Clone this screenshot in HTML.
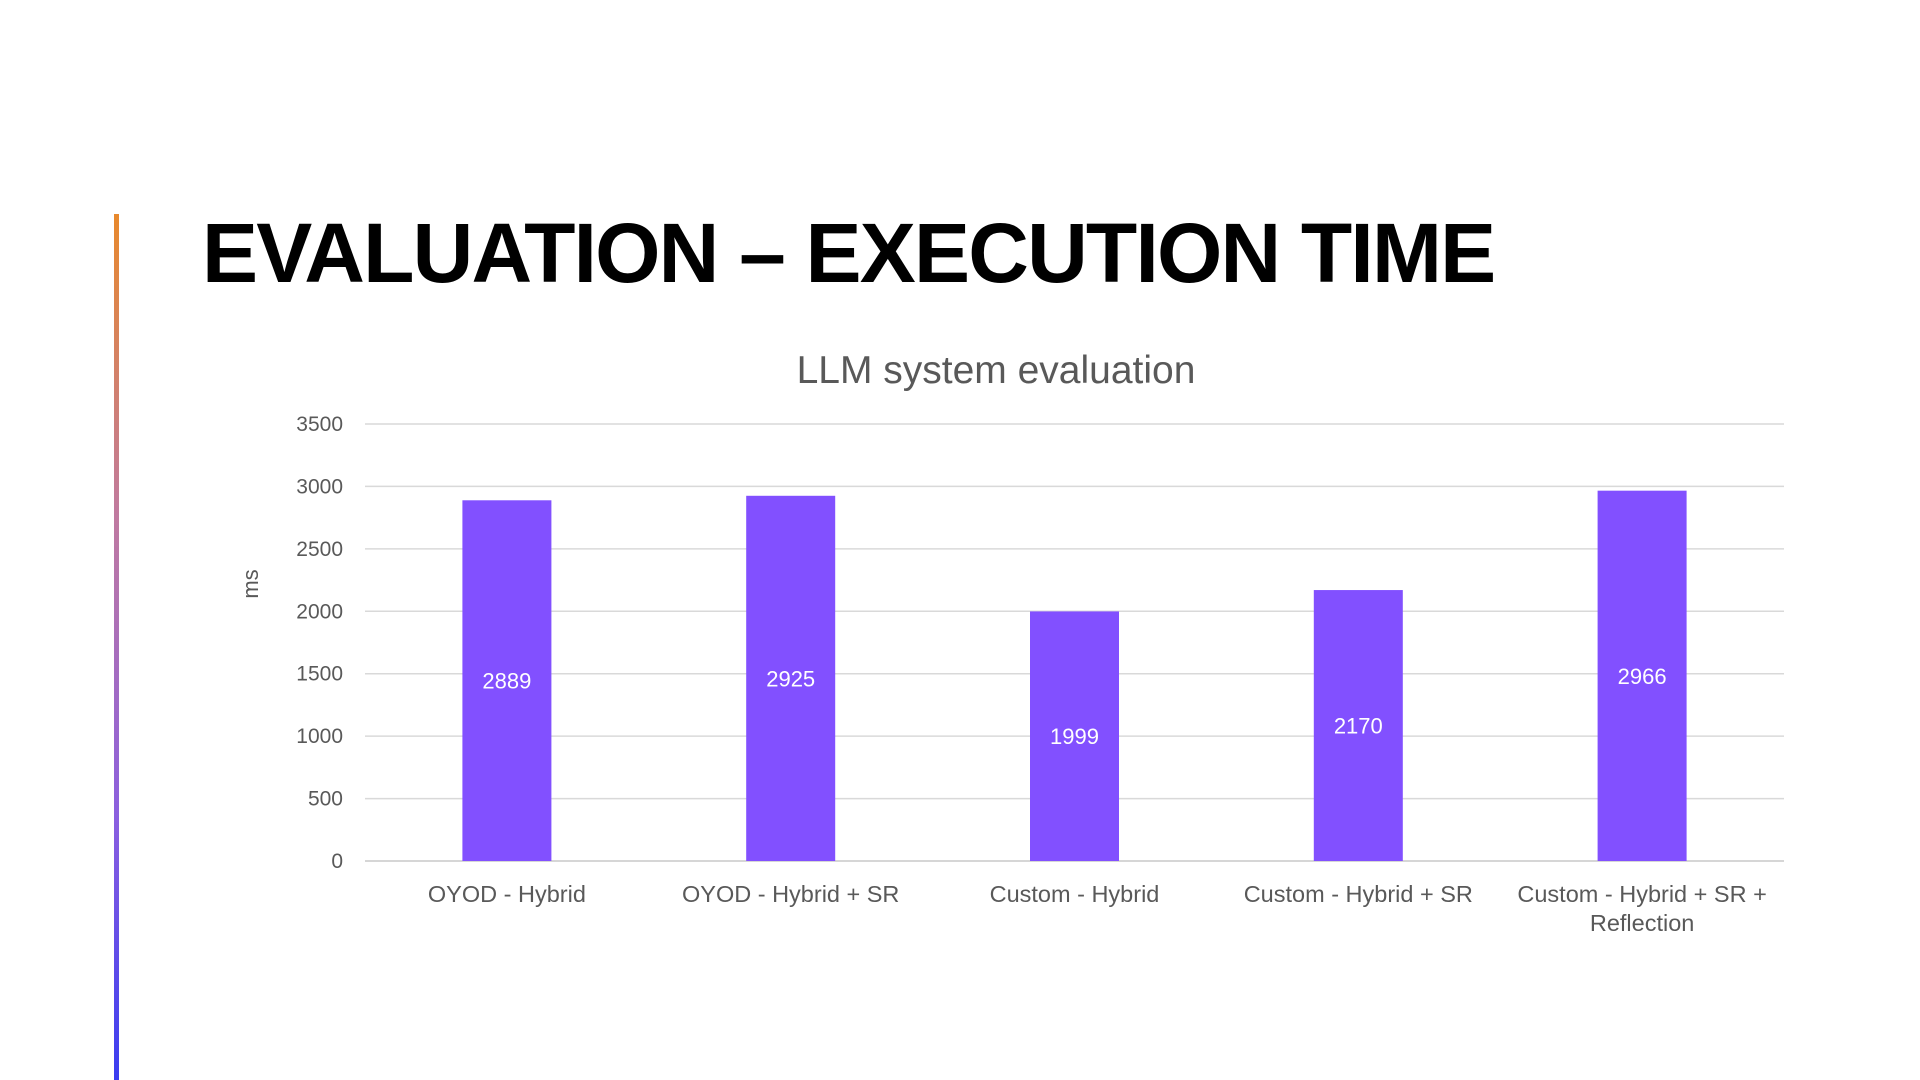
<!DOCTYPE html>
<html><head><meta charset="utf-8"><style>
body{margin:0;width:1920px;height:1080px;background:#fff;overflow:hidden;font-family:"Liberation Sans",sans-serif;position:relative}
#accent{position:absolute;left:114px;top:214px;width:5px;height:866px;background:linear-gradient(#e8892c,#c07aa0 35%,#8a5fe0 70%,#3a3cf0)}
#title{position:absolute;left:202px;top:205px;font-size:84px;font-weight:bold;color:#000;letter-spacing:-1.8px;white-space:nowrap}
svg{position:absolute;left:0;top:0}
</style></head><body>
<div id="accent"></div>
<div id="title">EVALUATION – EXECUTION TIME</div>
<svg id="chart" width="1920" height="1080"></svg>
<script>
const categories=[["OYOD - Hybrid"],["OYOD - Hybrid + SR"],["Custom - Hybrid"],["Custom - Hybrid + SR"],["Custom - Hybrid + SR +","Reflection"]];
const values=[2889,2925,1999,2170,2966];
const ticks=[0,500,1000,1500,2000,2500,3000,3500];
const NS="http://www.w3.org/2000/svg";
const svg=document.getElementById('chart');
const x0=365,x1=1784,yTop=424,yBot=861,maxV=3500;
const y=v=>yBot-(v/maxV)*(yBot-yTop);
const band=(x1-x0)/categories.length;
const xc=i=>x0+band*(i+0.5);
function mk(t,a,txt){const e=document.createElementNS(NS,t);for(const k in a)e.setAttribute(k,a[k]);if(txt!=null)e.textContent=txt;svg.appendChild(e);return e;}
let e=mk('text',{x:996,y:383,'font-size':39,fill:'#595959','text-anchor':'middle'},'LLM system evaluation');


ticks.forEach(t=>{
 let g=mk('line',{x1:x0,x2:x1,y1:y(t),y2:y(t),stroke:t===0?'#c8c8c8':'#d9d9d9','stroke-width':1.5});
 
 
 let l=mk('text',{x:343,y:y(t)+7,'font-size':21,fill:'#595959','text-anchor':'end'},t);
 
 
});
e=mk('text',{x:0,y:0,'font-size':22,fill:'#595959','text-anchor':'middle',transform:'translate(258,584) rotate(-90)'},'ms');


const bw=89;
values.forEach((v,i)=>{
 let r=mk('rect',{x:xc(i)-bw/2,y:y(v),width:bw,height:yBot-y(v),fill:'#8250ff'});
 
 
 let t=mk('text',{x:xc(i),y:y(v/2)+8,'font-size':22,fill:'#fff','text-anchor':'middle'},v);
 
 
 categories[i].forEach((s,j)=>{
  let c=mk('text',{x:xc(i),y:902+j*29,'font-size':23.5,fill:'#595959','text-anchor':'middle'},s);
  
  
 });
});
</script>
</body></html>
